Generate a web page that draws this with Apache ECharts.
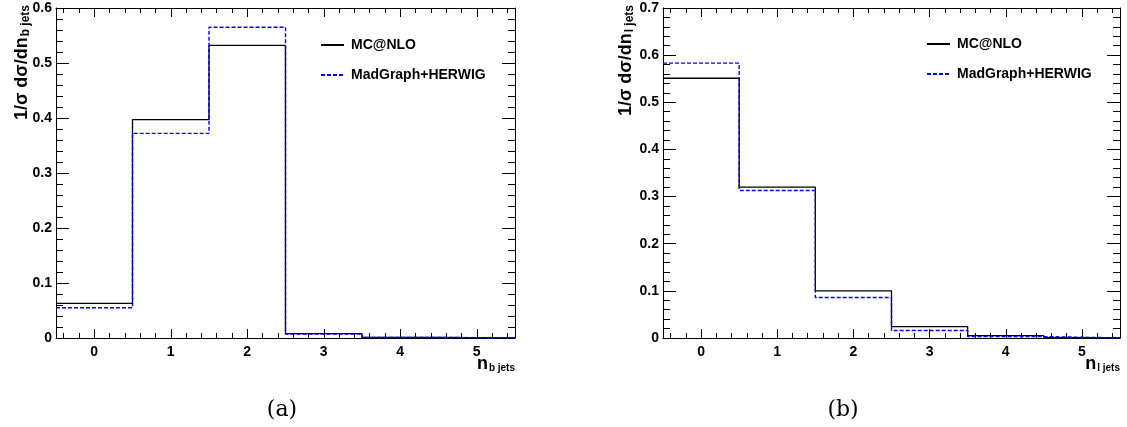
<!DOCTYPE html>
<html>
<head>
<meta charset="utf-8">
<script src="https://cdn.jsdelivr.net/npm/echarts@6/dist/echarts.min.js"></script>
<style>
html,body{margin:0;padding:0;background:#fff;}
#chart{width:1127px;height:427px;}
</style>
</head>
<body>
<div id="chart"></div>
<script>
// Bin centers (number of jets)
const binCenters = [0, 1, 2, 3, 4, 5];
// minor x tick positions (ROOT-style, every 0.2)
const xMinorTicks = [-0.4, -0.2, 0.2, 0.4, 0.6, 0.8, 1.2, 1.4, 1.6, 1.8, 2.2, 2.4, 2.6, 2.8,
  3.2, 3.4, 3.6, 3.8, 4.2, 4.4, 4.6, 4.8, 5.2, 5.4];
// (a) b-jet multiplicity
const mcnloB = [0.063, 0.397, 0.532, 0.008, 0.001, 0.0003];
const madB   = [0.055, 0.372, 0.565, 0.007, 0.001, 0.0002];
// (b) light-jet multiplicity
const mcnloL = [0.551, 0.320, 0.100, 0.024, 0.005, 0.0005];
const madL   = [0.583, 0.313, 0.086, 0.016, 0.003, 0.0003];
const seriesNames = ['MC@NLO', 'MadGraph+HERWIG'];

function histPoints(vals) {
  const pts = [];
  vals.forEach((v, i) => {
    pts.push([binCenters[i] - 0.5, v]);
    pts.push([binCenters[i] + 0.5, v]);
  });
  return pts;
}

const chart = echarts.init(document.getElementById('chart'), null, {renderer: 'canvas'});
const FONT = '"Liberation Sans", Arial, Helvetica, sans-serif';
const grids = [
  {left: 56, top: 8, width: 459, height: 330},
  {left: 663, top: 8, width: 457, height: 330}
];

function xAx(gi, pos, minor) {
  return {
    type: 'value', gridIndex: gi, position: pos, min: -0.5, max: 5.5, interval: 0.5,
    axisLine: {show: !minor, onZero: false, lineStyle: {color: '#000', width: 1}},
    axisTick: {show: true, inside: true, length: minor ? 5 : 9, lineStyle: {color: '#000'},
      customValues: minor ? xMinorTicks : binCenters},
    minorTick: {show: false},
    splitLine: {show: false},
    axisLabel: {show: pos === 'bottom' && !minor, customValues: binCenters, margin: 7,
      fontFamily: FONT, fontWeight: 'bold', fontSize: 14, color: '#000'}
  };
}
function yAx(gi, pos, max) {
  return {
    type: 'value', gridIndex: gi, position: pos, min: 0, max: max, interval: 0.1,
    axisLine: {show: true, onZero: false, lineStyle: {color: '#000', width: 1}},
    axisTick: {show: true, inside: true, length: 13, lineStyle: {color: '#000'}},
    minorTick: {show: true, splitNumber: 5, length: 7, lineStyle: {color: '#000'}},
    splitLine: {show: false},
    axisLabel: {show: pos === 'left', margin: 4,
      formatter: v => (v === 0 ? '0' : v.toFixed(1)),
      fontFamily: FONT, fontWeight: 'bold', fontSize: 14, color: '#000'}
  };
}

function lineSeries(name, data, xi, yi, color, dashed) {
  return {
    name: name, type: 'line', xAxisIndex: xi, yAxisIndex: yi,
    data: histPoints(data), symbol: 'none', showSymbol: false, animation: false,
    lineStyle: {color: color, width: dashed ? 1.4 : 1.3, type: dashed ? [4, 2] : 'solid'},
    itemStyle: {color: color}, z: dashed ? 3 : 2
  };
}

const subStyle = {fontFamily: FONT, fontWeight: 'bold', fontSize: 12, color: '#000', verticalAlign: 'bottom', padding: [8, 0, 0, 1]};
const mainStyleY = {fontFamily: FONT, fontWeight: 'bold', fontSize: 18, color: '#000'};
const subStyleX = {fontFamily: FONT, fontWeight: 'bold', fontSize: 10, color: '#000', verticalAlign: 'bottom', padding: [7, 0, 0, 1]};
const mainStyleX = {fontFamily: FONT, fontWeight: 'bold', fontSize: 18, color: '#000'};

function yTitle(x, sub) {
  return {
    type: 'text', x: x, y: 5, rotation: Math.PI / 2,
    style: {text: '{m|1/σ dσ/dn}{s|' + sub + '}', align: 'right', verticalAlign: 'middle',
      rich: {m: mainStyleY, s: subStyle}}
  };
}
function xTitle(x, sub) {
  return {
    type: 'text', x: x, y: 364,
    style: {text: '{m|n}{s|' + sub + '}', align: 'right', verticalAlign: 'middle',
      rich: {m: mainStyleX, s: subStyleX}}
  };
}
function caption(x, t) {
  return {type: 'text', x: x, y: 410,
    style: {text: t, align: 'center', verticalAlign: 'middle',
      fontFamily: 'DejaVu Serif', fontSize: 22, fill: '#000'}};
}
function legendAt(left, top) {
  return {left: left, top: top, padding: 0, orient: 'vertical', itemWidth: 23, itemHeight: 14, itemGap: 16,
    data: seriesNames, itemStyle: {opacity: 0}, selectedMode: false,
    textStyle: {fontFamily: FONT, fontWeight: 'bold', fontSize: 14, color: '#000', padding: [0, 0, 0, 2]}};
}

const option = {
  backgroundColor: '#fff',
  animation: false,
  grid: grids,
  xAxis: [xAx(0, 'bottom', false), xAx(0, 'top', false), xAx(1, 'bottom', false), xAx(1, 'top', false),
          xAx(0, 'bottom', true), xAx(0, 'top', true), xAx(1, 'bottom', true), xAx(1, 'top', true)],
  yAxis: [yAx(0, 'left', 0.6), yAx(0, 'right', 0.6), yAx(1, 'left', 0.7), yAx(1, 'right', 0.7)],
  legend: [legendAt(320, 38), legendAt(926, 37)],
  series: [
    lineSeries(seriesNames[0], mcnloB, 0, 0, '#000', false),
    lineSeries(seriesNames[1], madB, 0, 0, '#0000ff', true),
    lineSeries(seriesNames[0], mcnloL, 2, 2, '#000', false),
    lineSeries(seriesNames[1], madL, 2, 2, '#0000ff', true)
  ],
  graphic: [
    yTitle(22, 'b jets'), yTitle(626, 'l jets'),
    xTitle(515, 'b jets'), xTitle(1120, 'l jets'),
    caption(282, '(a)'), caption(843, '(b)')
  ]
};
chart.setOption(option);
</script>
</body>
</html>
